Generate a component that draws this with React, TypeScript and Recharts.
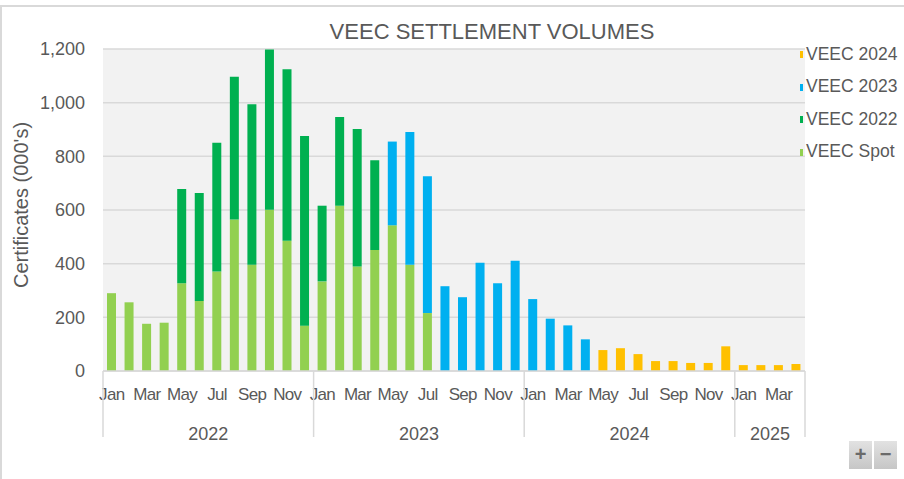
import React from 'react';
import { BarChart, Bar, XAxis, YAxis, CartesianGrid, Legend } from 'recharts';

const monthNames = ['Jan', 'Feb', 'Mar', 'Apr', 'May', 'Jun', 'Jul', 'Aug', 'Sep', 'Oct', 'Nov', 'Dec'];
const years = ['2022', '2023', '2024', '2025'];
const monthsPerYear = [12, 12, 12, 4];
const legendOrder = ['VEEC 2024', 'VEEC 2023', 'VEEC 2022', 'VEEC Spot'];

// certificates (000's), Jan 2022 .. Apr 2025
const veecSpot = [
  290, 256, 176, 180, 327, 261, 371, 565, 396, 601, 485, 169,
  334, 616, 389, 451, 543, 396, 216, 0, 0, 0, 0, 0,
  0, 0, 0, 0, 0, 0, 0, 0, 0, 0, 0, 0,
  0, 0, 0, 0,
];
const veec2022 = [
  0, 0, 0, 0, 351, 402, 480, 532, 598, 597, 640, 707,
  282, 331, 513, 334, 0, 0, 0, 0, 0, 0, 0, 0,
  0, 0, 0, 0, 0, 0, 0, 0, 0, 0, 0, 0,
  0, 0, 0, 0,
];
const veec2023 = [
  0, 0, 0, 0, 0, 0, 0, 0, 0, 0, 0, 0,
  0, 0, 0, 0, 312, 495, 510, 316, 275, 403, 327, 411,
  268, 195, 170, 118, 0, 0, 0, 0, 0, 0, 0, 0,
  0, 0, 0, 0,
];
const veec2024 = [
  0, 0, 0, 0, 0, 0, 0, 0, 0, 0, 0, 0,
  0, 0, 0, 0, 0, 0, 0, 0, 0, 0, 0, 0,
  0, 0, 0, 0, 78, 85, 63, 37, 37, 30, 30, 92,
  22, 22, 22, 26,
];
const yTicks = [0, 200, 400, 600, 800, 1000, 1200];

const FONT = "'Liberation Sans', Arial, sans-serif";
const TEXT = '#595959';
const GRID = '#d9d9d9';

const PLOT_LEFT = 103;
const PLOT_RIGHT = 805;
const PLOT_TOP = 49;
const PLOT_BOTTOM = 371;

const data: any[] = [];
years.forEach((year, yi) => {
  for (let m = 0; m < monthsPerYear[yi]; m++) {
    const i = data.length;
    data.push({
      idx: i,
      month: monthNames[m],
      year,
      yearStart: m === 0,
      yearCount: monthsPerYear[yi],
      spot: veecSpot[i],
      v2022: veec2022[i],
      v2023: veec2023[i],
      v2024: veec2024[i],
    });
  }
});

const YearTick = (props: any) => {
  const { x, payload } = props;
  const row = data[payload.value];
  if (!row) return null;
  const bw = (PLOT_RIGHT - PLOT_LEFT) / data.length;
  const isLast = row.idx === data.length - 1;
  return (
    <g>
      {row.yearStart && (
        <>
          <line x1={x - bw / 2} x2={x - bw / 2} y1={PLOT_BOTTOM} y2={437} stroke={GRID} strokeWidth={1.5} />
          <text
            x={x + (row.yearCount / 2 - 0.5) * bw}
            y={440}
            textAnchor="middle"
            fill={TEXT}
            fontSize={18}
            fontFamily={FONT}
          >
            {row.year}
          </text>
        </>
      )}
      {isLast && (
        <line x1={x + bw / 2} x2={x + bw / 2} y1={PLOT_BOTTOM} y2={437} stroke={GRID} strokeWidth={1.5} />
      )}
    </g>
  );
};

const renderLegend = (props: any) => {
  const items = [...(props.payload || [])].sort(
    (a: any, b: any) => legendOrder.indexOf(a.value) - legendOrder.indexOf(b.value)
  );
  return (
    <div style={{ fontFamily: FONT, fontSize: 17.5, color: TEXT }}>
      {items.map((it: any) => (
        <div key={it.value} style={{ height: 32.5, display: 'flex', alignItems: 'center', position: 'relative' }}>
          <span style={{ position: 'absolute', left: -6, top: 13, width: 3, height: 7, background: it.color }} />
          <span>{it.value}</span>
        </div>
      ))}
    </div>
  );
};

const App: React.FC = () => {
  return (
    <div style={{ position: 'absolute', left: 0, top: 0, width: 904, height: 479, background: '#fff', overflow: 'hidden' }}>
      <div style={{ position: 'absolute', left: 0, top: 5, width: 920, height: 500, borderTop: '2px solid #d9d9d9', borderLeft: '2px solid #d9d9d9' }} />
      <div
        style={{
          position: 'absolute',
          left: 0,
          width: 984,
          top: 19,
          textAlign: 'center',
          fontFamily: FONT,
          fontSize: 22,
          color: TEXT,
        }}
      >
        VEEC SETTLEMENT VOLUMES
      </div>
      <div style={{ position: 'absolute', left: 0, top: 0 }}>
        <BarChart
          width={904}
          height={479}
          data={data}
          barSize={9}
          margin={{ top: PLOT_TOP, right: 904 - PLOT_RIGHT, left: 0, bottom: 0 }}
        >
          <CartesianGrid vertical={false} stroke={GRID} strokeWidth={1.5} fill="#f2f2f2" />
          <XAxis
            dataKey="month"
            height={40}
            interval={1}
            tickLine={false}
            tickMargin={11}
            axisLine={{ stroke: GRID, strokeWidth: 1.5 }}
            tick={{ fill: TEXT, fontSize: 17, fontFamily: FONT, letterSpacing: -0.7 }}
          />
          <XAxis
            xAxisId="year"
            dataKey="idx"
            height={68}
            interval={0}
            axisLine={false}
            tickLine={false}
            tick={<YearTick />}
          />
          <YAxis
            width={PLOT_LEFT}
            domain={[0, 1200]}
            ticks={yTicks}
            axisLine={false}
            tickLine={false}
            tickMargin={12}
            tickFormatter={(v: number) => v.toLocaleString('en-US')}
            tick={{ fill: TEXT, fontSize: 18, fontFamily: FONT }}
            label={{
              value: "Certificates (000's)",
              content: () => (
                <text
                  x={28}
                  y={205}
                  transform="rotate(-90 28 205)"
                  textAnchor="middle"
                  fill={TEXT}
                  fontSize={20}
                  fontFamily={FONT}
                >
                  Certificates (000's)
                </text>
              ),
            }}
          />
          <Legend
            layout="horizontal"
            verticalAlign="middle"
            align="center"
            content={renderLegend}
            wrapperStyle={{ left: 806, top: 38, width: 100 }}
          />
          <Bar dataKey="spot" name="VEEC Spot" stackId="a" fill="#92d050" isAnimationActive={false} />
          <Bar dataKey="v2022" name="VEEC 2022" stackId="a" fill="#00b050" isAnimationActive={false} />
          <Bar dataKey="v2023" name="VEEC 2023" stackId="a" fill="#00b0f0" isAnimationActive={false} />
          <Bar dataKey="v2024" name="VEEC 2024" stackId="a" fill="#ffc000" isAnimationActive={false} />
        </BarChart>
      </div>
      <div style={{ position: 'absolute', left: 849, top: 441, display: 'flex', gap: 2 }}>
        {['+', '\u2212'].map((s) => (
          <div
            key={s}
            style={{
              width: 23,
              height: 28,
              background: 'linear-gradient(#e2e2e2, #c6c6c6)',
              color: '#6a6a6a',
              fontFamily: FONT,
              fontWeight: 'bold',
              fontSize: 20,
              lineHeight: '27px',
              textAlign: 'center',
            }}
          >
            {s}
          </div>
        ))}
      </div>
    </div>
  );
};

export default App;
